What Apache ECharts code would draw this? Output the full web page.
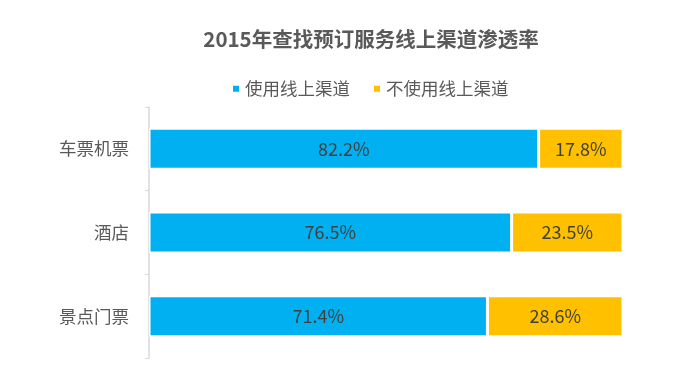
<!DOCTYPE html>
<html><head><meta charset="utf-8">
<script src="https://cdn.jsdelivr.net/npm/echarts@6/dist/echarts.min.js"></script>
<style>html,body{margin:0;padding:0;background:#fff}#c{width:700px;height:390px}</style>
</head><body><div id="c"></div>
<script>
const categories = ['车票机票', '酒店', '景点门票'];
const seriesNames = ['使用线上渠道', '不使用线上渠道'];
const onlineValues = [82.2, 76.5, 71.4];
const offlineValues = [17.8, 23.5, 28.6];

const font = '"Noto Sans CJK SC", "Microsoft YaHei", sans-serif';
const chart = echarts.init(document.getElementById('c'), null, {renderer: 'canvas'});
chart.setOption({
  animation: false,
  textStyle: {fontFamily: font},
  title: {
    text: '2015年查找预订服务线上渠道渗透率',
    left: 366, top: 24, textAlign: 'center',
    textStyle: {fontSize: 20.5, fontWeight: 'bold', color: '#595959', fontFamily: font}
  },
  legend: {
    top: 75, left: 226,
    itemWidth: 8, itemHeight: 8, itemGap: 22,
    icon: 'rect',
    textStyle: {fontSize: 17.5, color: '#595959', fontFamily: font},
    data: seriesNames
  },
  grid: {left: 149, right: 77, top: 107, bottom: 32, containLabel: false},
  xAxis: {type: 'value', min: 0, max: 100, show: false},
  yAxis: {
    type: 'category', data: categories, inverse: true, offset: 2,
    axisLine: {show: true, lineStyle: {color: '#d9d9d9', width: 1.5}},
    axisTick: {show: true, length: 4, lineStyle: {color: '#d9d9d9'}},
    axisLabel: {fontSize: 17.5, color: '#595959', margin: 18, fontFamily: font}
  },
  series: [
    {
      name: seriesNames[0], type: 'bar', stack: 'a', data: onlineValues,
      barCategoryGap: '51%',
      itemStyle: {color: '#00B0F0', borderColor: '#fff', borderWidth: 1.5},
      label: {show: true, position: 'inside', formatter: '{c}%', fontSize: 18, color: '#404040', fontFamily: font}
    },
    {
      name: seriesNames[1], type: 'bar', stack: 'a', data: offlineValues,
      itemStyle: {color: '#FFC000', borderColor: '#fff', borderWidth: 1.5},
      label: {show: true, position: 'inside', formatter: '{c}%', fontSize: 18, color: '#404040', fontFamily: font}
    }
  ]
});
</script></body></html>
